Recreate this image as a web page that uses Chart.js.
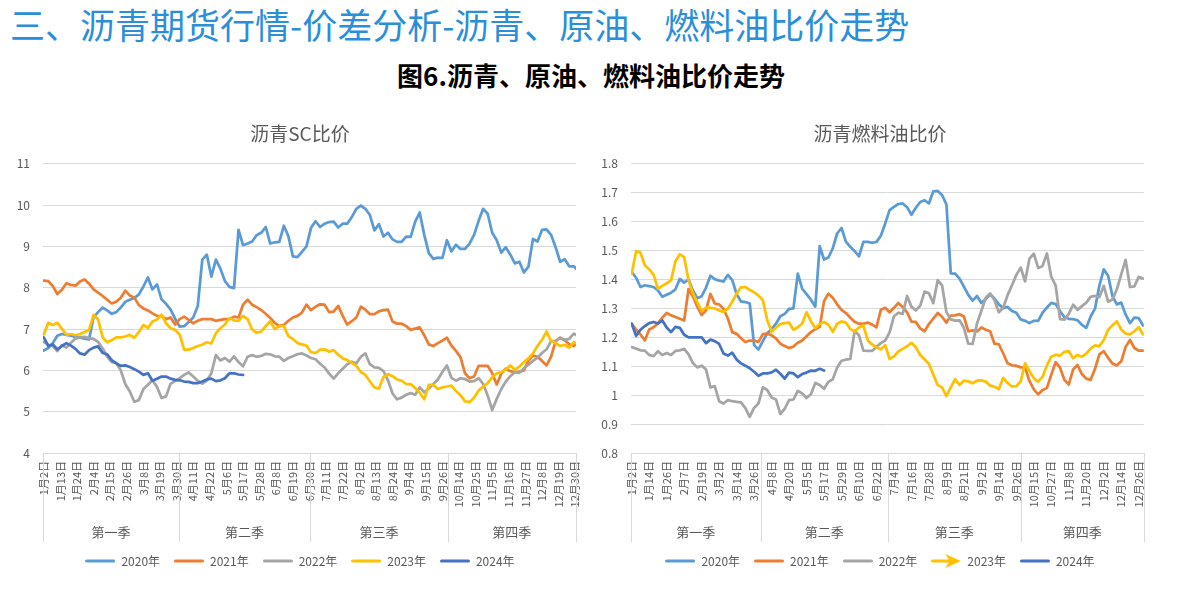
<!DOCTYPE html>
<html lang="zh-CN">
<head>
<meta charset="utf-8">
<title>沥青、原油、燃料油比价走势</title>
<script src="https://cdn.jsdelivr.net/npm/chart.js@4.4.1/dist/chart.umd.min.js"></script>
<style>
  html, body { margin: 0; padding: 0; background: #fff; }
  body { width: 1197px; height: 592px; position: relative; overflow: hidden;
         font-family: "Noto Sans CJK SC", "Noto Sans", sans-serif; }
  .page-title { position: absolute; left: 10px; top: 0; font-size: 35px; line-height: 48px;
                color: #2a8fd8; white-space: nowrap; }
  .fig-title { position: absolute; left: 0; top: 57px; width: 1182px; text-align: center;
               font-size: 26px; font-weight: bold; line-height: 36px; color: #000; }
  .chart-box { position: absolute; top: 112px; height: 472px; }
</style>
</head>
<body>
<div class="page-title">三、沥青期货行情-价差分析-沥青、原油、燃料油比价走势</div>
<div class="fig-title">图6.沥青、原油、燃料油比价走势</div>
<div class="chart-box" style="left:0;width:600px"><canvas id="chartSC" width="600" height="472"></canvas></div>
<div class="chart-box" style="left:600px;width:560px"><canvas id="chartFO" width="560" height="472"></canvas></div>
<script>
// 每 3 个交易日取一个点
const STEP = 3;
const YEARS    = ['2020年', '2021年', '2022年', '2023年', '2024年'];
const COLORS   = ['#5B9BD5', '#ED7D31', '#A5A5A5', '#FFC000', '#4472C4'];
const QUARTERS = ['第一季', '第二季', '第三季', '第四季'];

// 沥青SC比价
const SC_TICKS = ['1月2日','1月13日','1月24日','2月4日','2月15日','2月26日','3月8日','3月19日','3月30日',
  '4月11日','4月22日','5月6日','5月17日','5月28日','6月8日','6月19日','6月30日',
  '7月11日','7月22日','8月2日','8月13日','8月24日','9月4日','9月15日','9月26日',
  '10月14日','10月25日','11月5日','11月16日','11月27日','12月8日','12月19日','12月30日'];
const SC_2020 = [6.48, 6.54, 6.66, 6.84, 6.88, 6.86, 6.84, 6.81, 6.79, 6.77,
  6.75, 7.29, 7.41, 7.52, 7.45, 7.37, 7.41, 7.52, 7.66, 7.71,
  7.75, 7.84, 8.03, 8.25, 7.96, 8.08, 7.72, 7.61, 7.47, 7.25,
  7.06, 7.07, 7.17, 7.28, 7.56, 8.68, 8.8, 8.27, 8.68, 8.46,
  8.16, 8.02, 7.99, 9.4, 9.03, 9.07, 9.12, 9.27, 9.33, 9.47,
  9.07, 9.1, 9.11, 9.5, 9.25, 8.76, 8.74, 8.87, 9.0, 9.45,
  9.61, 9.47, 9.55, 9.59, 9.6, 9.46, 9.55, 9.55, 9.71, 9.91,
  9.99, 9.91, 9.76, 9.39, 9.54, 9.24, 9.33, 9.17, 9.11, 9.11,
  9.24, 9.23, 9.6, 9.82, 9.28, 8.84, 8.7, 8.73, 8.72, 9.15,
  8.88, 9.04, 8.94, 8.94, 9.07, 9.28, 9.62, 9.91, 9.79, 9.33,
  9.15, 8.85, 8.98, 8.8, 8.59, 8.63, 8.37, 8.51, 9.18, 9.12,
  9.4, 9.41, 9.28, 8.98, 8.63, 8.69, 8.52, 8.52, 8.41];
const SC_2021 = [8.17, 8.16, 8.04, 7.85, 7.95, 8.11, 8.07, 8.05, 8.15, 8.2,
  8.1, 7.96, 7.88, 7.8, 7.71, 7.62, 7.66, 7.76, 7.93, 7.81,
  7.76, 7.58, 7.5, 7.45, 7.38, 7.32, 7.31, 7.24, 7.28, 7.11,
  7.24, 7.3, 7.22, 7.14, 7.2, 7.24, 7.24, 7.24, 7.2, 7.22,
  7.24, 7.24, 7.3, 7.28, 7.59, 7.71, 7.59, 7.53, 7.46, 7.37,
  7.27, 7.15, 7.07, 7.1, 7.2, 7.28, 7.32, 7.4, 7.59, 7.46,
  7.54, 7.6, 7.59, 7.41, 7.42, 7.56, 7.32, 7.11, 7.19, 7.28,
  7.54, 7.47, 7.36, 7.36, 7.43, 7.46, 7.47, 7.18, 7.13, 7.13,
  7.07, 6.98, 7.01, 7.04, 6.85, 6.63, 6.59, 6.66, 6.72, 6.79,
  6.6, 6.47, 6.32, 5.93, 5.81, 5.85, 6.11, 6.11, 6.11, 5.93,
  5.66, 5.92, 6.04, 5.98, 5.96, 5.97, 6.0, 6.24, 6.36, 6.33,
  6.23, 6.12, 6.33, 6.71, 6.79, 6.73, 6.63, 6.59, 6.67];
const SC_2022 = [6.69, 6.62, 6.59, 6.47, 6.61, 6.55, 6.67, 6.77, 6.8, 6.81,
  6.78, 6.76, 6.69, 6.53, 6.33, 6.2, 6.18, 6.0, 5.67, 5.49,
  5.24, 5.28, 5.55, 5.65, 5.76, 5.6, 5.33, 5.37, 5.68, 5.74,
  5.81, 5.89, 5.95, 5.85, 5.75, 5.68, 5.75, 5.93, 6.37, 6.24,
  6.3, 6.21, 6.34, 6.2, 6.1, 6.33, 6.37, 6.33, 6.35, 6.4,
  6.39, 6.34, 6.33, 6.23, 6.3, 6.34, 6.39, 6.41, 6.36, 6.3,
  6.27, 6.16, 6.07, 5.92, 5.8, 5.93, 6.04, 6.15, 6.21, 6.17,
  6.33, 6.41, 6.15, 6.07, 6.06, 5.98, 5.76, 5.44, 5.3, 5.34,
  5.41, 5.45, 5.41, 5.59, 5.47, 5.56, 5.67, 5.78, 5.96, 6.12,
  5.82, 5.75, 5.81, 5.79, 5.73, 5.74, 5.81, 5.67, 5.39, 5.04,
  5.31, 5.55, 5.73, 5.86, 5.96, 5.94, 6.05, 6.14, 6.23, 6.31,
  6.42, 6.51, 6.71, 6.71, 6.78, 6.74, 6.76, 6.89, 6.83];
const SC_2023 = [6.87, 7.15, 7.1, 7.15, 7.01, 6.86, 6.88, 6.85, 6.88, 6.93,
  6.98, 7.34, 7.23, 6.8, 6.68, 6.73, 6.8, 6.8, 6.82, 6.86,
  6.79, 6.93, 7.1, 7.03, 7.18, 7.23, 7.35, 7.14, 7.02, 6.98,
  6.87, 6.5, 6.5, 6.54, 6.59, 6.62, 6.68, 6.65, 6.9, 7.02,
  7.11, 7.27, 7.21, 7.2, 7.32, 7.24, 6.99, 6.91, 6.94, 7.07,
  7.19, 7.0, 7.07, 7.07, 6.83, 6.76, 6.66, 6.63, 6.6, 6.44,
  6.42, 6.5, 6.51, 6.45, 6.49, 6.38, 6.29, 6.25, 6.18, 6.11,
  5.96, 5.89, 5.73, 5.59, 5.56, 5.84, 5.91, 5.86, 5.78, 5.75,
  5.67, 5.67, 5.57, 5.46, 5.3, 5.65, 5.65, 5.55, 5.59, 5.61,
  5.63, 5.5, 5.4, 5.25, 5.23, 5.34, 5.51, 5.61, 5.69, 5.83,
  5.93, 5.95, 6.02, 6.12, 6.02, 6.09, 6.2, 6.29, 6.41, 6.59,
  6.74, 6.94, 6.71, 6.66, 6.59, 6.62, 6.55, 6.68, 6.63];
const SC_2024 = [6.8, 6.59, 6.63, 6.51, 6.59, 6.66, 6.6, 6.52, 6.41, 6.38,
  6.49, 6.55, 6.58, 6.42, 6.39, 6.25, 6.17, 6.11, 6.12, 6.08,
  6.03, 5.97, 5.89, 5.93, 5.75, 5.8, 5.85, 5.85, 5.8, 5.77,
  5.76, 5.73, 5.72, 5.69, 5.69, 5.73, 5.78, 5.8, 5.74, 5.76,
  5.81, 5.93, 5.93, 5.9, 5.89];

// 沥青燃料油比价
const FO_TICKS = ['1月2日','1月14日','1月26日','2月7日','2月19日','3月2日','3月14日','3月26日',
  '4月8日','4月20日','5月5日','5月17日','5月29日','6月10日','6月22日',
  '7月4日','7月16日','7月28日','8月9日','8月21日','9月2日','9月14日','9月26日',
  '10月15日','10月27日','11月8日','11月20日','12月2日','12月14日','12月26日'];
const FO_2020 = [1.426, 1.406, 1.374, 1.38, 1.377, 1.374, 1.362, 1.34, 1.347, 1.354,
  1.366, 1.402, 1.389, 1.4, 1.362, 1.335, 1.342, 1.372, 1.413, 1.401,
  1.396, 1.393, 1.416, 1.398, 1.349, 1.324, 1.322, 1.317, 1.173, 1.158,
  1.187, 1.214, 1.228, 1.247, 1.273, 1.281, 1.298, 1.3, 1.42, 1.368,
  1.349, 1.33, 1.306, 1.515, 1.469, 1.476, 1.508, 1.559, 1.578, 1.531,
  1.513, 1.498, 1.48, 1.53, 1.53, 1.527, 1.53, 1.551, 1.594, 1.64,
  1.651, 1.661, 1.663, 1.65, 1.624, 1.648, 1.668, 1.674, 1.663, 1.705,
  1.706, 1.692, 1.66, 1.421, 1.42, 1.403, 1.375, 1.347, 1.327, 1.343,
  1.319, 1.332, 1.349, 1.334, 1.314, 1.301, 1.305, 1.291, 1.285, 1.262,
  1.257, 1.249, 1.257, 1.257, 1.285, 1.303, 1.319, 1.315, 1.29, 1.27,
  1.264, 1.263, 1.259, 1.243, 1.233, 1.272, 1.299, 1.379, 1.435, 1.413,
  1.342, 1.314, 1.32, 1.279, 1.249, 1.268, 1.266, 1.241];
const FO_2021 = [1.247, 1.227, 1.21, 1.189, 1.227, 1.235, 1.248, 1.268, 1.284, 1.276,
  1.27, 1.264, 1.258, 1.367, 1.341, 1.306, 1.277, 1.293, 1.35, 1.317,
  1.314, 1.299, 1.265, 1.218, 1.212, 1.197, 1.184, 1.189, 1.189, 1.184,
  1.211, 1.213, 1.207, 1.196, 1.178, 1.17, 1.163, 1.168, 1.181, 1.189,
  1.204, 1.218, 1.228, 1.236, 1.325, 1.351, 1.337, 1.314, 1.295, 1.284,
  1.268, 1.254, 1.247, 1.247, 1.251, 1.244, 1.235, 1.295, 1.302, 1.287,
  1.302, 1.319, 1.305, 1.286, 1.254, 1.253, 1.231, 1.221, 1.246, 1.265,
  1.284, 1.271, 1.251, 1.275, 1.276, 1.28, 1.272, 1.221, 1.224, 1.22,
  1.234, 1.226, 1.221, 1.178, 1.176, 1.144, 1.11, 1.103, 1.102, 1.096,
  1.095, 1.049, 1.02, 1.003, 1.018, 1.025, 1.071, 1.114, 1.095, 1.053,
  1.037, 1.089, 1.104, 1.073, 1.057, 1.053, 1.091, 1.141, 1.152, 1.129,
  1.109, 1.103, 1.117, 1.167, 1.191, 1.163, 1.154, 1.154];
const FO_2022 = [1.166, 1.161, 1.155, 1.154, 1.139, 1.135, 1.152, 1.139, 1.146, 1.139,
  1.153, 1.155, 1.16, 1.141, 1.111, 1.096, 1.102, 1.089, 1.027, 1.031,
  0.979, 0.971, 0.983, 0.979, 0.977, 0.975, 0.955, 0.925, 0.956, 0.971,
  1.027, 1.018, 0.992, 0.985, 0.935, 0.953, 0.983, 0.985, 1.015, 1.006,
  0.99, 1.003, 1.042, 1.035, 1.022, 1.046, 1.055, 1.096, 1.119, 1.123,
  1.125, 1.222, 1.207, 1.154, 1.153, 1.153, 1.167, 1.18, 1.189, 1.217,
  1.273, 1.285, 1.281, 1.343, 1.306, 1.293, 1.309, 1.358, 1.352, 1.318,
  1.398, 1.38, 1.287, 1.262, 1.258, 1.259, 1.233, 1.178, 1.177, 1.248,
  1.292, 1.337, 1.352, 1.328, 1.287, 1.302, 1.346, 1.38, 1.416, 1.441,
  1.394, 1.472, 1.489, 1.44, 1.447, 1.49, 1.409, 1.379, 1.263, 1.261,
  1.281, 1.313, 1.295, 1.308, 1.32, 1.34, 1.343, 1.339, 1.378, 1.323,
  1.331, 1.366, 1.418, 1.468, 1.374, 1.376, 1.409, 1.403];
const FO_2023 = [1.42, 1.498, 1.493, 1.449, 1.435, 1.417, 1.368, 1.378, 1.387, 1.397,
  1.463, 1.487, 1.477, 1.397, 1.352, 1.321, 1.291, 1.303, 1.302, 1.3,
  1.293, 1.288, 1.299, 1.323, 1.351, 1.373, 1.374, 1.364, 1.356, 1.344,
  1.328, 1.26, 1.219, 1.234, 1.246, 1.249, 1.251, 1.226, 1.235, 1.248,
  1.287, 1.255, 1.232, 1.246, 1.253, 1.244, 1.219, 1.247, 1.255, 1.251,
  1.229, 1.22, 1.234, 1.241, 1.19, 1.175, 1.166, 1.158, 1.173, 1.125,
  1.134, 1.151, 1.16, 1.169, 1.181, 1.166, 1.139, 1.124, 1.108, 1.071,
  1.035, 1.027, 0.997, 1.028, 1.055, 1.035, 1.05, 1.048, 1.041, 1.05,
  1.051, 1.047, 1.033, 1.029, 1.021, 1.06, 1.042, 1.03, 1.031, 1.048,
  1.11, 1.084, 1.058, 1.047, 1.064, 1.103, 1.133, 1.14, 1.137, 1.15,
  1.152, 1.128, 1.139, 1.133, 1.144, 1.161, 1.172, 1.169, 1.191, 1.226,
  1.242, 1.255, 1.227, 1.213, 1.21, 1.221, 1.235, 1.21];
const FO_2024 = [1.247, 1.205, 1.226, 1.239, 1.249, 1.253, 1.248, 1.258, 1.234, 1.218,
  1.236, 1.233, 1.209, 1.2, 1.2, 1.2, 1.2, 1.18, 1.192, 1.187,
  1.177, 1.144, 1.137, 1.147, 1.123, 1.11, 1.102, 1.093, 1.081, 1.067,
  1.075, 1.075, 1.079, 1.088, 1.074, 1.057, 1.078, 1.075, 1.062, 1.073,
  1.078, 1.085, 1.084, 1.091, 1.085];

Chart.defaults.font.family = '"Noto Sans CJK SC", "Noto Sans", sans-serif';
Chart.defaults.color = '#595959';

// 图例用的线段 / 箭头小图
function legendLine(color) {
  const c = document.createElement('canvas');
  c.width = 30; c.height = 6;
  const g = c.getContext('2d');
  g.strokeStyle = color; g.lineWidth = 3; g.lineCap = 'round';
  g.beginPath(); g.moveTo(1.5, 3); g.lineTo(28.5, 3); g.stroke();
  return c;
}
function legendArrow(color) {
  const c = document.createElement('canvas');
  c.width = 30; c.height = 16;
  const g = c.getContext('2d');
  g.strokeStyle = color; g.fillStyle = color; g.lineWidth = 3; g.lineCap = 'round';
  g.beginPath(); g.moveTo(1.5, 8); g.lineTo(19, 8); g.stroke();
  g.beginPath(); g.moveTo(14, 1); g.lineTo(29.5, 8); g.lineTo(14, 15); g.lineTo(18, 8); g.closePath(); g.fill();
  return c;
}

// 季度分组轴：分隔竖线 + 季度文字
const quarterAxis = {
  id: 'quarterAxis',
  afterDraw(chart, args, opts) {
    const { ctx, chartArea: a, scales: { x } } = chart;
    const edges = [a.left, ...opts.breaks.map(b => x.getPixelForValue(b)), a.right];
    ctx.save();
    ctx.strokeStyle = '#D9D9D9';
    ctx.lineWidth = 1;
    edges.forEach(px => {
      const xx = Math.round(px) + 0.5;
      ctx.beginPath(); ctx.moveTo(xx, a.bottom); ctx.lineTo(xx, a.bottom + 89); ctx.stroke();
    });
    ctx.fillStyle = '#595959';
    ctx.font = '13px "Noto Sans CJK SC"';
    ctx.textAlign = 'center';
    ctx.textBaseline = 'middle';
    QUARTERS.forEach((q, i) => ctx.fillText(q, (edges[i] + edges[i + 1]) / 2, a.bottom + 79));
    ctx.restore();
  },
};

function makeChart(id, cfg) {
  return new Chart(document.getElementById(id), {
    type: 'line',
    data: {
      datasets: YEARS.map((name, i) => ({
        label:           name,
        data:            cfg.series[i].map((v, k) => ({ x: k * STEP, y: v })),
        borderColor:     COLORS[i],
        backgroundColor: COLORS[i],
        borderWidth:     2.75,
        borderJoinStyle: 'round',
        borderCapStyle:  'round',
        pointRadius:     0,
        pointHoverRadius: 0,
        tension:         0,
        pointStyle:      (cfg.arrowIndex === i ? legendArrow : legendLine)(COLORS[i]),
        order:           YEARS.length - i,
      })),
    },
    options: {
      responsive: false,
      animation:  false,
      layout: { padding: { top: 0, bottom: 7, left: 0, right: 0 } },
      plugins: {
        title: {
          display: true, text: cfg.title, color: '#595959',
          font: { size: 19, weight: 'normal' },
          padding: { top: 10, bottom: 19 },
        },
        legend: {
          position: 'bottom',
          labels: {
            usePointStyle: true, pointStyleWidth: 30, padding: 14,
            font: { size: 12 }, color: '#595959',
            sort: (a, b) => a.datasetIndex - b.datasetIndex,
          },
        },
        tooltip: { enabled: false },
        quarterAxis: { breaks: cfg.breaks },
      },
      scales: {
        x: {
          type: 'linear', min: -0.5, max: cfg.lastCat + 0.5,
          grid:   { display: false, drawTicks: false },
          border: { display: false },
          afterBuildTicks: s => { s.ticks = cfg.ticks.map((_, i) => ({ value: i * cfg.tickEvery })); },
          afterFit: s => { s.height = 88; },
          ticks: {
            autoSkip: false, minRotation: 90, maxRotation: 90, padding: 8,
            font: { size: 11 }, color: '#595959',
            callback: (v, i) => cfg.ticks[i],
          },
        },
        y: {
          position: 'left', min: cfg.yMin, max: cfg.yMax,
          grid:   { color: '#D9D9D9', drawTicks: false },
          border: { display: false },
          afterFit: s => { s.width = cfg.yWidth; },
          ticks: {
            stepSize: cfg.yStep, padding: 13, font: { size: 12 }, color: '#595959',
            callback: v => String(Math.round(v * 10) / 10),
          },
        },
        yPad: {
          position: 'right',
          grid:   { display: false },
          border: { display: false },
          ticks:  { display: false },
          afterFit: s => { s.width = cfg.rightWidth; },
        },
      },
    },
    plugins: [quarterAxis],
  });
}

makeChart('chartSC', {
  title: '沥青SC比价',
  series: [SC_2020, SC_2021, SC_2022, SC_2023, SC_2024],
  ticks: SC_TICKS, tickEvery: 11, lastCat: 352,
  breaks: [89.5, 176.5, 267.5],
  yMin: 4, yMax: 11, yStep: 1,
  yWidth: 43, rightWidth: 24,
  arrowIndex: -1,
});

makeChart('chartFO', {
  title: '沥青燃料油比价',
  series: [FO_2020, FO_2021, FO_2022, FO_2023, FO_2024],
  ticks: FO_TICKS, tickEvery: 12, lastCat: 351,
  breaks: [88.5, 175.8, 267],
  yMin: 0.8, yMax: 1.8, yStep: 0.1,
  yWidth: 31, rightWidth: 8,
  arrowIndex: 3,
});
</script>
</body>
</html>
